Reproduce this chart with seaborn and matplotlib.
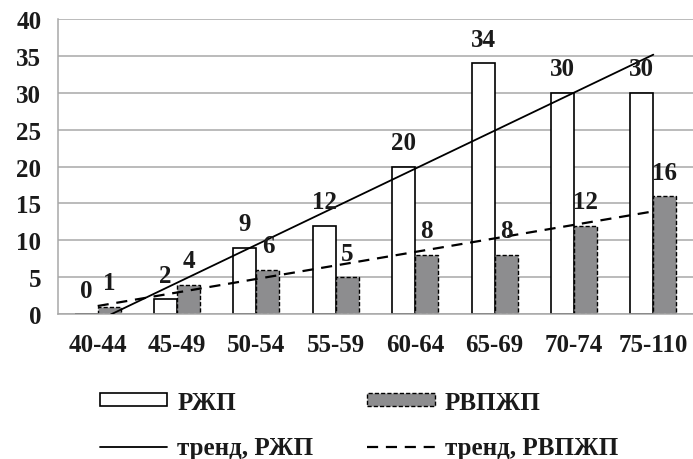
import numpy as np
import pandas as pd
import matplotlib
matplotlib.use("Agg")
import matplotlib.pyplot as plt
import seaborn as sns
from matplotlib.lines import Line2D
from matplotlib.patches import Patch

categories = ["40-44", "45-49", "50-54", "55-59", "60-64", "65-69", "70-74", "75-110"]
rzhp = [0, 2, 9, 12, 20, 34, 30, 30]
rvpzhp = [1, 4, 6, 5, 8, 8, 12, 16]
series_names = ["РЖП", "РВПЖП"]
trend_names = ["тренд, РЖП", "тренд, РВПЖП"]
y_ticks = [0, 5, 10, 15, 20, 25, 30, 35, 40]

sns.set_style("white")
plt.rcParams["font.family"] = ["Liberation Serif", "DejaVu Serif"]
plt.rcParams["font.weight"] = "bold"
FS = 18

df = pd.DataFrame({
    "cat": categories * 2,
    "val": rzhp + rvpzhp,
    "series": [series_names[0]] * len(categories) + [series_names[1]] * len(categories),
})

fig = plt.figure(figsize=(6.93, 4.60), dpi=100)
ax = fig.add_axes([58 / 693, 1 - 315 / 460, (693 - 58) / 693, (315 - 20) / 460])

gray = "#8d8d8f"
grid_c = "#a8a8a8"
sns.barplot(data=df, x="cat", y="val", hue="series", order=categories,
            hue_order=series_names, palette={series_names[0]: "white", series_names[1]: gray},
            width=0.58, ax=ax, legend=False, zorder=3)

c0, c1 = ax.containers[0], ax.containers[1]
for p in c0:
    p.set_edgecolor("black"); p.set_linewidth(1.2); p.set_facecolor("white")
for p in c1:
    p.set_edgecolor("black"); p.set_linewidth(1.0); p.set_linestyle((0, (3, 1.5)))
    p.set_facecolor(gray)

xpos = np.arange(len(categories))
sns.regplot(x=xpos, y=np.array(rzhp, float), scatter=False, ci=None, truncate=True, ax=ax,
            line_kws=dict(color="black", lw=1.3, zorder=5))
sns.regplot(x=xpos, y=np.array(rvpzhp, float), scatter=False, ci=None, truncate=True, ax=ax,
            line_kws=dict(color="black", lw=1.6, ls=(0, (5, 3.5)), zorder=5))

for cont, vals in ((c0, rzhp), (c1, rvpzhp)):
    ax.bar_label(cont, labels=[str(v) for v in vals], padding=9, fontsize=FS,
                 fontweight="bold", color="#1a1a1a", zorder=6)

ax.set_xlim(-0.5, len(categories) - 0.5)
ax.set_ylim(0, 40)
ax.set_yticks(y_ticks)
ax.set_yticklabels([str(t) for t in y_ticks], fontsize=FS, fontweight="bold", color="#1a1a1a")
ax.set_xticks(xpos)
ax.set_xticklabels(categories, fontsize=FS, fontweight="bold", color="#1a1a1a")
ax.set_xticks(np.arange(-0.5, len(categories), 1.0), minor=True)
ax.tick_params(axis="x", which="major", length=0, pad=14)
ax.tick_params(axis="x", which="minor", length=6, width=1.1, color=grid_c, direction="out")
ax.tick_params(axis="y", which="major", length=6, width=1.1, color=grid_c, direction="out", pad=6)
ax.set_xlabel(""); ax.set_ylabel("")
ax.yaxis.grid(True, color=grid_c, lw=1.1, zorder=0)
ax.set_axisbelow(True)
for s in ("top", "right"):
    ax.spines[s].set_visible(False)
for s in ("left", "bottom"):
    ax.spines[s].set_color(grid_c); ax.spines[s].set_linewidth(1.1)
ax.spines["bottom"].set_zorder(4)

handles = [
    Patch(facecolor="white", edgecolor="black", lw=1.2),
    Line2D([], [], color="black", lw=1.3),
    Patch(facecolor=gray, edgecolor="black", lw=1.0, ls=(0, (3, 1.5))),
    Line2D([], [], color="black", lw=1.6, ls=(0, (5, 3.5))),
]
labels = [series_names[0], trend_names[0], series_names[1], trend_names[1]]
fig.legend(handles, labels, ncol=2, loc="center", bbox_to_anchor=(0.518, 0.074),
           frameon=False, prop=dict(size=FS, weight="bold"), handlelength=2.7,
           handleheight=0.4, handletextpad=0.4, columnspacing=2.15, labelspacing=0.9,
           labelcolor="#1a1a1a")

fig.savefig("out.png", dpi=100)
